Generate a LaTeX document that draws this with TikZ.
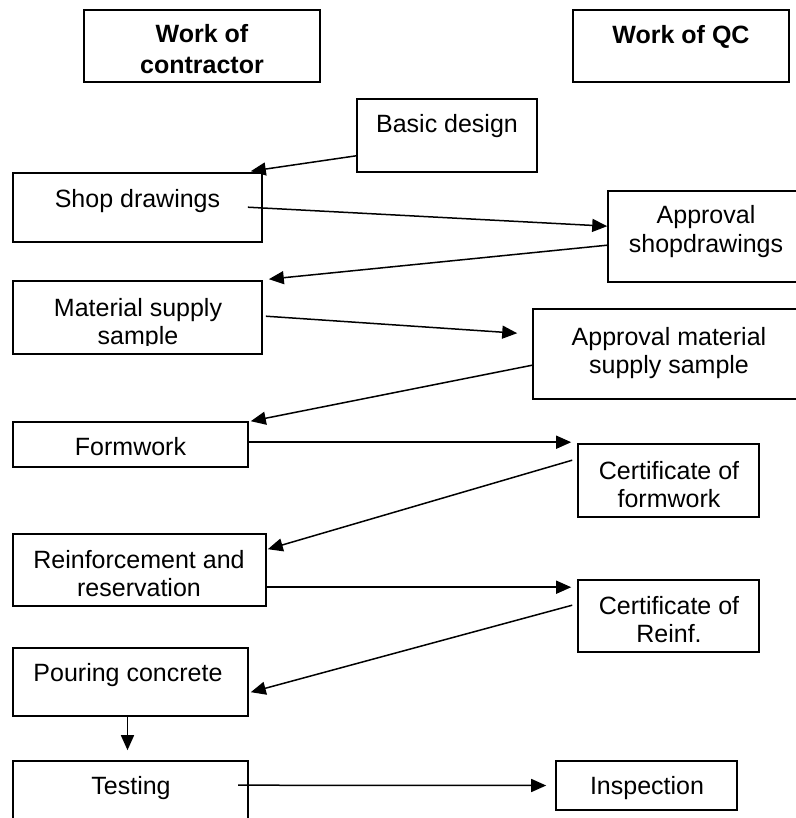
\documentclass[tikz,border=0pt]{standalone}
\usepackage{fontspec}
\setmainfont{Liberation Sans}
\usetikzlibrary{arrows.meta,calc,fit}
\begin{document}
\begin{tikzpicture}[x=0.5pt,y=-0.5pt,
  box/.style={draw=black,line width=0.8pt,inner sep=0pt},
  txt/.style={font=\fontsize{12.5pt}{14pt}\selectfont,align=center,anchor=base,inner sep=0pt},
  head/.style={font=\fontsize{12.5pt}{15.5pt}\selectfont\bfseries,align=center,anchor=base,inner sep=0pt},
  flow/.style={line width=0.75pt,-{Triangle[length=7.5pt,width=6.5pt]}}]
\useasboundingbox (0,0) rectangle (796,818);
\clip (0,0) rectangle (796,818);

% column headings (multi-line texts are placed by their last baseline)
\node[box,fit={(84,10) (320,82)}] (hc) {};
\node[head] (hcT) at (202,74) {Work of\\contractor};
\node[box,fit={(573,10) (789,82)}] (hq) {};
\node[head] (hqT) at (681,44) {Work of QC};

% process boxes
\node[box,fit={(357,99) (537,172)}] (basic) {};
\node[txt] (basicT) at (447,133) {Basic design};

\node[box,fit={(13,173) (262,242)}] (shop) {};
\node[txt] (shopT) at (137.5,207) {Shop drawings};

\node[box,fit={(608,191) (806,282)}] (apsh) {};
\node[txt] (apshT) at (706,252) {Approval\\shopdrawings};

\node[box,fit={(13,281) (262,354)}] (mat) {};
\begin{scope}
  \clip (13,281) rectangle (262,345);
  \node[txt] (matT) at (138,344) {Material supply\\sample};
\end{scope}

\node[box,fit={(533,309) (806,399)}] (apmat) {};
\node[txt] (apmatT) at (669,373) {Approval material\\supply sample};

\node[box,fit={(13,422) (248,467)}] (form) {};
\node[txt] (formT) at (130.5,455) {Formwork};

\node[box,fit={(578,444) (759,517)}] (cf) {};
\node[txt] (cfT) at (669,507) {Certificate of\\formwork};

\node[box,fit={(13,534) (266,606)}] (reinf) {};
\node[txt] (reinfT) at (139,596) {Reinforcement and\\reservation};

\node[box,fit={(578,580) (759,652)}] (cr) {};
\node[txt] (crT) at (669,642) {Certificate of\\Reinf.};

\node[box,fit={(13,648) (248,716)}] (pour) {};
\node[txt] (pourT) at (128,681) {Pouring concrete};

\node[box,fit={(13,761) (248,826)}] (test) {};
\node[txt] (testT) at (131,794) {Testing};

\node[box,fit={(556,761) (737,810)}] (insp) {};
\node[txt] (inspT) at (647,794) {Inspection};

% connectors
\draw[flow] ($(basic.south west)+(0,-17)$) -- ($(shop.north east)+(-12,-1)$);
\draw[flow] ($(shop.north east)+(-15,35)$) -- ($(apsh.north west)+(0,36)$);
\draw[flow] ($(apsh.north west)+(0,55)$) -- ($(mat.north east)+(6,-1)$);
\draw[flow] ($(mat.north east)+(3,36)$) -- ($(apmat.north west)+(-15,25)$);
\draw[flow] ($(apmat.north west)+(0,57)$) -- ($(form.north east)+(2,0)$);
\draw[flow] ($(form.north east)+(0,21)$) -- ($(cf.north west)+(-6,-1)$);
\draw[flow] ($(cf.north west)+(-5,17)$) -- ($(reinf.north east)+(1,16)$);
\draw[flow] ($(reinf.north east)+(0,54)$) -- ($(cr.north west)+(-6,8)$);
\draw[flow] ($(cr.north west)+(-5,26)$) -- ($(pour.north east)+(2,45)$);
\draw[flow] ($(pour.south)+(-3,0)$) -- ($(test.north)+(-3,-10)$);
\draw[flow] ($(test.north west)+(226,25)$) -- ($(insp.west)+(-9,0)$);
\end{tikzpicture}
\end{document}
